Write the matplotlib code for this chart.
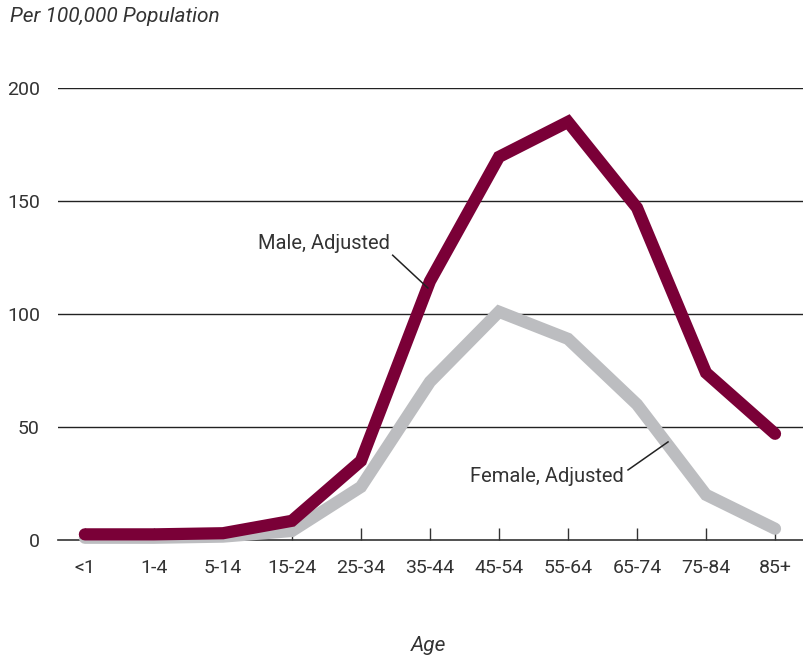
import numpy as np
import matplotlib.pyplot as plt

# Age groups and rates per 100,000
age_groups = ['<1', '1-4', '5-14', '15-24', '25-34', '35-44',
              '45-54', '55-64', '65-74', '75-84', '85+']
male_adj = [2.5, 2.5, 3.0, 8.5, 35, 114.5, 169.5, 185, 147, 74, 47]
female_adj = [1.0, 1.0, 1.5, 4.0, 23.5, 70, 101, 89, 60, 20, 5]

male_color = '#7a0037'
female_color = '#bcbdc0'
text_color = '#333333'

plt.rcParams['font.family'] = ['Roboto', 'DejaVu Sans']

fig = plt.figure(figsize=(8.04, 6.6), dpi=100)
ax = fig.add_axes([0.0721, 0.1818, 0.9279, 0.6849])

x = np.arange(len(age_groups))
ax.plot(x, female_adj, color=female_color, lw=8.8,
        solid_capstyle='round', solid_joinstyle='miter', zorder=3, clip_on=False)
ax.plot(x, male_adj, color=male_color, lw=8.8,
        solid_capstyle='round', solid_joinstyle='miter', zorder=4, clip_on=False)

ax.set_xlim(-0.39, 10.42)
ax.set_ylim(0, 200)
ax.set_yticks([0, 50, 100, 150, 200])
ax.set_xticks(x)
ax.set_xticklabels(age_groups)

for yv in [50, 100, 150, 200]:
    ax.axhline(yv, color='#222222', lw=1.0, zorder=1)

for s in ['top', 'right', 'left']:
    ax.spines[s].set_visible(False)
ax.spines['bottom'].set_color(text_color)
ax.spines['bottom'].set_linewidth(1.2)

ax.tick_params(axis='x', direction='in', length=8.5, width=1.0,
               color=text_color, pad=14, labelsize=14, labelcolor=text_color)
ax.tick_params(axis='y', length=0, pad=13, labelsize=14, labelcolor=text_color)

# labels with leader lines
ax.text(4.42, 131, 'Male, Adjusted', fontsize=14.5, color=text_color,
        ha='right', va='center')
ax.plot([4.46, 4.97], [126, 111.5], color='#222222', lw=1.1, zorder=5)
ax.text(7.81, 28, 'Female, Adjusted', fontsize=14.5, color=text_color,
        ha='right', va='center')
ax.plot([7.87, 8.45], [31, 43.4], color='#222222', lw=1.1, zorder=5)

fig.text(0.012, 0.99, 'Per 100,000 Population', fontsize=15,
         style='italic', color=text_color, ha='left', va='top')
fig.text(0.533, 0.008, 'Age', fontsize=15, style='italic',
         color=text_color, ha='center', va='bottom')

fig.savefig('out.png', dpi=100)
